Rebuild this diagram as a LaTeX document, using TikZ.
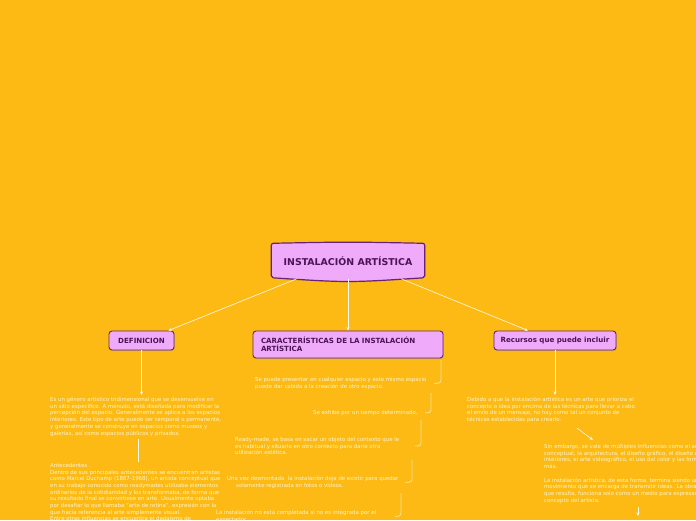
\documentclass[tikz,border=0pt]{standalone}
\usepackage{fontspec}
\setmainfont{DejaVu Sans}
\usepackage{tikz}
\usetikzlibrary{arrows.meta, positioning, shadows, calc}

\definecolor{bgorange}{RGB}{253,186,20}
\definecolor{nodefill}{RGB}{240,170,250}
\definecolor{nodeborder}{RGB}{105,35,115}
\definecolor{nodetext}{RGB}{75,20,85}
\definecolor{paletext}{RGB}{255,244,205}
\definecolor{linkwhite}{RGB}{255,250,238}
\definecolor{bracketcol}{RGB}{255,226,150}

\pgfdeclarelayer{backdrop}
\pgfdeclarelayer{shape}
\pgfsetlayers{backdrop,shape,main}

\begin{document}
\begin{tikzpicture}[
    x=1pt, y=-1pt,
    titlebox/.style={rectangle, minimum width=153pt, minimum height=35pt, inner sep=0pt, text=nodetext, font=\fontsize{9.4}{11}\selectfont\bfseries},
    titleshape/.style={draw=nodeborder, line width=1.2pt, fill=nodefill, rounded corners=2pt, drop shadow={shadow xshift=0.8pt, shadow yshift=-0.8pt, opacity=0.3}},
    topic/.style={rectangle, rounded corners=3pt, draw=nodeborder, line width=0.9pt, fill=nodefill, text=nodetext, inner sep=0pt, font=\fontsize{7.1}{8}\selectfont\bfseries, drop shadow={shadow xshift=0.8pt, shadow yshift=-0.8pt, opacity=0.35}},
    note/.style={anchor=north west, inner sep=0pt, align=left, text=paletext, font=\fontsize{5.4}{6.7}\selectfont},
    link/.style={draw=linkwhite, line width=0.6pt, -{Stealth[length=3.5pt, width=3pt]}},
    plainlink/.style={draw=linkwhite, line width=0.6pt},
    bracketline/.style={draw=bracketcol, line width=0.8pt, rounded corners=3pt},
]

    \begin{pgfonlayer}{backdrop}
      \fill[bgorange] (0,0) rectangle (696,520);
    \end{pgfonlayer}
    \useasboundingbox (0,0) rectangle (696,520);

    % main topic
    \node (title) [titlebox] at (348,261) {INSTALACIÓN ARTÍSTICA};
    \begin{pgfonlayer}{shape}
      \filldraw[titleshape] (title.north west) .. controls ($(title.north)+(0,-1.5)$) .. (title.north east)
        -- ($(title.south east)+(0,-1)$) .. controls ($(title.south)+(0,4)$) .. ($(title.south west)+(0,-1)$) -- cycle;
    \end{pgfonlayer}

    % subtopics
    \node (def) [topic, minimum width=65pt, minimum height=19pt] at (141.5,340.5) {DEFINICION};
    \node (car) [topic, minimum width=190pt, minimum height=27pt, text width=174pt, align=left] at (348,344.5)
      {CARACTERÍSTICAS DE LA INSTALACIÓN\\ARTÍSTICA};
    \node (rec) [topic, minimum width=122pt, minimum height=19pt] at (555,340.5) {Recursos que puede incluir};

    % definicion
    \node (defA) [note] at (50,397)
      {Es un género artístico tridimensional que se desenvuelve en\\
       un sitio específico. A menudo, está diseñada para modificar la\\
       percepción del espacio. Generalmente se aplica a los espacios\\
       interiores. Este tipo de arte puede ser temporal o permanente,\\
       y generalmente se construye en espacios como museos y\\
       galerías, así como espacios públicos y privados.};
    \node (defB) [note] at (50,463)
      {Antecedentes\\
       Dentro de sus principales antecedentes se encuentran artistas\\
       como Marcel Duchamp (1887-1968), un artista conceptual que\\
       en su trabajo conocido como readymades utilizaba elementos\\
       ordinarios de la cotidianidad y los transformaba, de forma que\\
       su resultado final se convirtiese en arte. Usualmente optaba\\
       por desafiar lo que llamaba "arte de retina", expresión con la\\
       que hacía referencia al arte simplemente visual.\\
       Entre otras influencias se encuentra el dadaísmo de};

    % caracteristicas
    \node (car1) [note] at (255,377)
      {Se puede presentar en cualquier espacio y este mismo espacio\\
       puede dar cabida a la creación de otro espacio.};
    \node (car2) [note] at (313,410) {Se exhibe por un tiempo determinado.};
    \node (car3) [note] at (235,437)
      {Ready-made, se basa en sacar un objeto del contexto que le\\
       es habitual y situarlo en otro contexto para darle otra\\
       utilización estética.};
    \node (car4) [note] at (236,476)
      {\hspace*{-9pt}Una vez desmontada\ \ la instalación deja de existir para quedar\\
       solamente registrada en fotos o videos.};
    \node (car5) [note] at (216,510)
      {La instalación no está completada si no es integrada por el\\
       espectador.};

    % recursos
    \node (recA) [note] at (467,397)
      {Debido a que la instalación artística es un arte que prioriza el\\
       concepto o idea por encima de las técnicas para llevar a cabo\\
       el envío de un mensaje, no hay como tal un conjunto de\\
       técnicas establecidas para crearlo.};
    \node (recB) [note] at (544,444)
      {Sin embargo, se vale de múltiples influencias como el arte\\
       conceptual, la arquitectura, el diseño gráfico, el diseño de\\
       interiores, el arte videográfico, el uso del color y las formas,\\
       más.\\[6.7pt]
       La instalación artística, de esta forma, termina siendo un\\
       movimiento que se encarga de transmitir ideas. La obra\\
       que resulta, funciona solo como un medio para expresar el\\
       concepto del artista.};
    \coordinate (nextrec) at (638,516);

    % bracket tops
    \coordinate (b1) at (441,360);
    \coordinate (b2) at (431,393);
    \coordinate (b3) at (421,420);
    \coordinate (b4) at (412,460);
    \coordinate (b5) at (401,493);

    \draw [link] ([xshift=-51pt]title.south) -- ([xshift=27pt]def.north);
    \draw [link] (title.south) -- (car.north);
    \draw [link] ([xshift=53pt]title.south) -- ([xshift=-27pt]rec.north);
    \draw [link] (def.south) -- ($(def.south |- defA.north)+(0,-2)$);
    \draw [plainlink] ($(defA.south west)+(88,3)$) -- ($(defA.south west |- defB.north)+(88,-1)$);
    \draw [link] (rec.south) -- ($(rec.south |- recA.north)+(0,-2)$);
    \draw [link] ($(recA.north west)+(110,31)$) -- ($(recB.north west)+(49,-4)$);
    \draw [link] ($(recB.south west)+(94,4)$) -- (nextrec);

    \draw [bracketline] (b1) |- ($(b1 |- car1.east)+(-7,0)$);
    \draw [bracketline] (b2) |- ($(b2 |- car2.east)+(-6,0)$);
    \draw [bracketline] (b3) |- ($(b3 |- car3.east)+(-6,0)$);
    \draw [bracketline] (b4) |- ($(b4 |- car4.east)+(-7,0)$);
    \draw [bracketline] (b5) |- ($(b5 |- car5.east)+(-6,0)$);

\end{tikzpicture}
\end{document}
